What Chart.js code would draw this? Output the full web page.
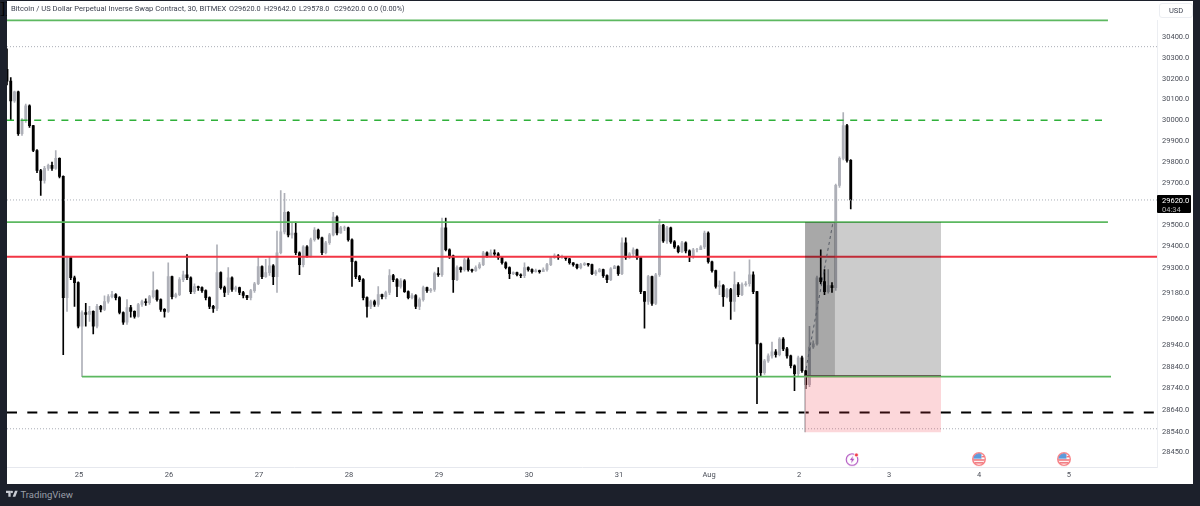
<![CDATA[<!DOCTYPE html>
<html><head><meta charset="utf-8">
<script src="https://cdn.jsdelivr.net/npm/chart.js@4"></script>
<style>
html,body{margin:0;padding:0;background:#1c202b;width:1200px;height:506px;overflow:hidden}
#panel{position:absolute;left:7px;top:1px;width:1186px;height:483px;background:#fff}
#c{position:absolute;left:0;top:0}
.t{position:absolute;font-family:Roboto,sans-serif;white-space:nowrap}
.h{font-size:7.6px;color:#3d4250;top:4px;line-height:10px}
.o{font-size:7.3px}
</style></head><body>
<div id="panel"><canvas id="c" width="1186" height="483"></canvas></div>
<div class="t h" style="left:11px">Bitcoin / US Dollar Perpetual Inverse Swap Contract, 30, BITMEX</div>
<div class="t h o" style="left:229px">O29620.0</div>
<div class="t h o" style="left:264px">H29642.0</div>
<div class="t h o" style="left:299px">L29578.0</div>
<div class="t h o" style="left:334px">C29620.0</div>
<div class="t h o" style="left:368px">0.0 (0.00%)</div>
<div style="position:absolute;left:1157px;top:1px;width:36px;height:19px;background:#fff"></div>
<div class="t" style="left:1159px;top:3px;width:32px;height:13px;border:1px solid #eceef2;border-radius:3px;background:#fff;color:#3d4250;font-size:7.5px;line-height:13px;text-align:center">USD</div>
<div style="position:absolute;left:1157px;top:195px;width:34px;height:18px;background:#000;border-radius:1px"></div>
<div class="t" style="left:1162px;top:196px;font-size:7.5px;line-height:9px;color:#fff">29620.0</div>
<div class="t" style="left:1162px;top:204.5px;font-size:7.5px;line-height:9px;color:#b8b8b8">04:34</div>
<svg style="position:absolute;left:6px;top:490px" width="12" height="8" viewBox="0 0 36 20"><path fill="#c9ccd3" d="M14 18H7V7H0V0h14zM28 18h-8L27 0h8zM21 4a3.5 3.5 0 1 1-7 0 3.5 3.5 0 0 1 7 0z"/></svg>
<div class="t" style="left:20.5px;top:489px;font-size:9.5px;line-height:12px;color:#9a9ea8">TradingView</div>
<script>
// Day axis
const dayTicks = [25,26,27,28,29,30,31,32,33,34,35,36];
const dayLabels = ['25','26','27','28','29','30','31','Aug','2','3','4','5'];
const priceTicks = [30400,30300,30200,30100,30000,29900,29800,29700,29500,29400,29300,29180,29060,28940,28840,28740,28640,28540,28450];

// Hourly candles read from the picture
const firstOpen = 30245;
const closes = [
30188,30093,30136,29936,29998,30069,29974,29855,29760,29713,
29770,29784,29770,29818,29732,29161,29348,29254,29231,29028,
29092,29083,29097,29028,29120,29106,29143,29166,29175,29161,
29092,29047,29115,29097,29074,29129,29143,29138,29166,29194,
29152,29106,29097,29259,29166,29175,29245,29268,29254,29189,
29213,29208,29194,29161,29120,29111,29278,29208,29185,29254,
29199,29208,29185,29171,29161,29194,29226,29306,29259,29278,
29310,29259,29371,29469,29562,29455,29464,29371,29315,29399,
29357,29432,29478,29441,29371,29418,29455,29539,29464,29488,
29488,29432,29329,29259,29245,29161,29120,29143,29129,29175,
29166,29185,29264,29245,29213,29240,29189,29161,29171,29120,
29152,29208,29194,29199,29273,29268,29488,29385,29357,29245,
29301,29292,29338,29292,29287,29301,29315,29371,29357,29371,
29366,29348,29324,29301,29273,29278,29268,29264,29301,29292,
29282,29287,29282,29292,29315,29348,29357,29348,29352,29343,
29324,29315,29301,29315,29320,29315,29273,29282,29292,29264,
29245,29296,29306,29273,29418,29348,29366,29385,29348,29189,
29143,29259,29134,29268,29501,29427,29488,29422,29399,29376,
29418,29380,29357,29385,29385,29399,29464,29329,29287,29213,
29217,29166,29199,29143,29222,29175,29222,29226,29268,29189,
28946,28813,28868,28891,28909,28896,28969,28923,28891,28845,
28809,28882,28822,28758,28932,28946,29254,29236,29189,29217,
29208,29689,29818,29974,29808,29620];
const highs = [
30345,30205,30140,30140,30008,30078,30074,29975,29860,29765,
29780,29790,29800,29855,29820,29735,29355,29352,29262,29235,
29100,29135,29120,29100,29130,29125,29170,29175,29190,29180,
29166,29095,29152,29125,29100,29135,29150,29155,29172,29282,
29197,29155,29110,29324,29262,29182,29255,29285,29362,29258,
29225,29215,29212,29197,29165,29125,29408,29282,29215,29301,
29258,29215,29210,29190,29172,29200,29232,29348,29310,29340,
29352,29315,29473,29665,29651,29565,29510,29515,29375,29405,
29405,29440,29490,29482,29445,29425,29462,29562,29545,29495,
29497,29492,29437,29332,29265,29250,29165,29150,29150,29213,
29178,29192,29292,29270,29250,29250,29245,29193,29180,29175,
29160,29215,29210,29205,29280,29301,29534,29534,29390,29360,
29310,29305,29345,29352,29295,29310,29325,29378,29375,29385,
29385,29372,29352,29328,29305,29282,29280,29272,29324,29305,
29296,29295,29290,29300,29322,29352,29366,29362,29360,29354,
29345,29325,29318,29322,29325,29322,29318,29290,29298,29294,
29268,29302,29312,29310,29441,29441,29372,29394,29388,29350,
29190,29265,29262,29275,29529,29505,29495,29492,29428,29405,
29425,29422,29385,29392,29392,29405,29473,29469,29332,29290,
29240,29222,29205,29205,29282,29231,29230,29236,29338,29282,
29190,28950,28875,28900,28955,28920,28975,28975,28930,28895,
28850,28890,28890,28825,29028,28960,29262,29385,29292,29292,
29231,29695,29825,30037,29980,29812];
const lows = [
30170,29998,30085,29927,29927,29990,29965,29850,29750,29642,
29700,29760,29760,29765,29725,28896,29097,29245,29120,29020,
28795,29028,29050,28992,29020,29095,29100,29135,29160,29150,
29085,29037,29037,29070,29065,29070,29120,29125,29130,29158,
29145,29097,29070,29092,29155,29160,29170,29235,29245,29180,
29180,29195,29185,29150,29110,29092,29100,29200,29165,29175,
29190,29190,29175,29160,29152,29150,29185,29222,29250,29255,
29265,29222,29185,29365,29460,29445,29440,29362,29268,29305,
29350,29350,29425,29435,29362,29365,29410,29450,29455,29462,
29475,29425,29213,29250,29235,29150,29070,29110,29120,29120,
29155,29155,29175,29235,29166,29205,29185,29155,29155,29110,
29105,29145,29185,29185,29190,29260,29260,29380,29345,29185,
29240,29280,29285,29285,29280,29283,29295,29310,29350,29352,
29358,29340,29318,29295,29250,29268,29262,29254,29254,29285,
29275,29280,29275,29285,29285,29310,29345,29340,29345,29335,
29318,29308,29295,29295,29310,29308,29268,29265,29280,29255,
29231,29240,29298,29265,29268,29340,29345,29355,29340,29180,
29019,29130,29125,29128,29260,29420,29415,29415,29392,29370,
29372,29370,29329,29345,29375,29385,29390,29322,29280,29205,
29175,29120,29160,29060,29097,29165,29170,29215,29215,29180,
28671,28799,28805,28860,28880,28885,28890,28915,28880,28835,
28731,28795,28815,28740,28749,28925,28940,29225,29175,29182,
29185,29195,29680,29810,29800,29578];
const firstBarDay = 24.2, barStepDays = 1/24;

// Drawn levels: [price, start day, end day]
const greenTop = [30483, 24.2, 36.433];
const greenDash = [30000, 24.2, 36.433];
const greenMid = [29515, 24.2, 36.433];
const redLevel = [29352, 24.2, 36.978];
const greenLow = [28795, 25.033, 36.467];
const blackDash = [28630, 24.2, 36.978];
const dottedLevels = [30355, 29620, 28556];

// Long-position drawing
const boxLeft = 33.067, boxMid = 33.4, boxRight = 34.578;
const boxTop = 29515, boxEntry = 28800, boxStopTop = 28795, boxStopBottom = 28540;
const pathDays = [33.078, 33.378], pathPrices = [28831, 29515];

// Event markers
const eventY = 28418;
const boltDays = [33.59], flagDays = [35.0, 35.944];

function icon(draw){const c=document.createElement('canvas');c.width=16;c.height=16;draw(c.getContext('2d'));return c;}
const boltIcon = icon(g=>{
  g.strokeStyle='#ab47bc';g.lineWidth=1.1;g.beginPath();g.arc(8,8.5,5.8,0,Math.PI*2);g.stroke();
  g.fillStyle='#ab47bc';g.beginPath();g.moveTo(9,4.8);g.lineTo(5.8,9);g.lineTo(7.8,9);g.lineTo(7,12.2);g.lineTo(10.3,7.8);g.lineTo(8.2,7.8);g.closePath();g.fill();
  g.fillStyle='#fff';g.beginPath();g.arc(12.3,3.8,2.4,0,7);g.fill();
  g.fillStyle='#f23645';g.beginPath();g.arc(12.3,3.8,1.6,0,7);g.fill();
});
const flagIcon = icon(g=>{
  g.save();g.beginPath();g.arc(8,8,6,0,7);g.clip();
  g.fillStyle='#fff';g.fillRect(0,0,16,16);
  g.fillStyle='#ef6c73';g.fillRect(2,8.2,12,1.5);g.fillRect(2,11,12,1.5);
  g.fillStyle='#5b9bdc';g.fillRect(2,2,8.5,5.6);g.fillStyle='#ef6c73';g.fillRect(10.5,5,4,1.3);
  g.restore();
  g.strokeStyle='#f77c80';g.lineWidth=1.3;g.beginPath();g.arc(8,8,6.3,0,7);g.stroke();
});

const opens = closes.map((c,i)=> i===0 ? firstOpen : closes[i-1]);
const barX = closes.map((c,i)=> firstBarDay + i*barStepDays);
const candleColor = closes.map((c,i)=> c>=opens[i] ? '#aeb0b8' : '#000000');

function level(spec,color,width,dash,order){
  return {type:'line',data:[{x:spec[1],y:spec[0]},{x:spec[2],y:spec[0]}],borderColor:color,borderWidth:width,borderDash:dash||[],pointRadius:0,order:order||3};
}
function box(x0,x1,top,bottom,color){
  return {type:'line',data:[{x:x0,y:top},{x:x1,y:top}],borderWidth:0,borderColor:'transparent',backgroundColor:color,fill:{value:bottom},pointRadius:0,order:1};
}
function marks(days,img){
  return {type:'line',showLine:false,data:days.map(d=>({x:d,y:eventY})),pointStyle:img,pointRadius:8,order:0};
}

new Chart(document.getElementById('c'),{
  type:'bar',
  data:{datasets:[
    {type:'bar',label:'wick',data:barX.map((x,i)=>({x,y:[lows[i],highs[i]]})),backgroundColor:candleColor,barThickness:1,grouped:false,order:6},
    {type:'bar',label:'body',data:barX.map((x,i)=>({x,y:[opens[i],closes[i]]})),backgroundColor:candleColor,barThickness:2.2,grouped:false,order:5},
    level(greenTop,'#5cb860',1.7),
    level(greenDash,'#2fb03a',1.6,[7,6.6]),
    level(greenMid,'#5cb860',1.7),
    level(redLevel,'#f23645',2),
    level(greenLow,'#5cb860',1.7),
    level(blackDash,'#000000',2,[10,10.3]),
    ...dottedLevels.map(p=>level([p,24.2,36.978],'#aaaeb6',1,[1,2])),
    box(boxLeft,boxMid,boxTop,boxEntry,'rgba(0,0,0,0.34)'),
    box(boxMid,boxRight,boxTop,boxEntry,'rgba(0,0,0,0.2)'),
    box(boxLeft,boxRight,boxStopTop,boxStopBottom,'rgba(242,54,69,0.2)'),
    {type:'line',data:[{x:boxLeft,y:boxStopTop},{x:boxLeft,y:boxStopBottom}],borderColor:'#b0b0b4',borderWidth:1.5,pointRadius:0,order:1},
    {type:'line',data:[{x:boxLeft,y:boxEntry},{x:boxRight,y:boxEntry}],borderColor:'#6a6558',borderWidth:1,pointRadius:0,order:1},
    {type:'line',data:pathDays.map((d,i)=>({x:d,y:pathPrices[i]})),borderColor:'#555a64',borderWidth:1,borderDash:[3,3],pointRadius:0,order:0},
    marks(boltDays,boltIcon),
    marks(flagDays,flagIcon)
  ]},
  options:{
    responsive:false,animation:false,events:[],devicePixelRatio:1,
    layout:{padding:0,autoPadding:false},
    plugins:{legend:{display:false},tooltip:{enabled:false}},
    scales:{
      x:{type:'linear',offset:false,min:24.2,max:36.978,
        grid:{display:false,drawTicks:false,offset:false},border:{display:true,color:'#e6e8ee'},
        afterBuildTicks:a=>{a.ticks=dayTicks.map(value=>({value}));},
        afterFit:a=>{a.height=17;},
        ticks:{autoSkip:false,maxRotation:0,padding:4,color:'#4a4e58',font:{family:'Roboto',size:7.5},
          callback:v=>dayLabels[dayTicks.indexOf(v)]}},
      y:{type:'logarithmic',position:'right',min:28382,max:30531,
        grid:{display:false,drawTicks:false},border:{display:true,color:'#eceef2'},
        afterBuildTicks:a=>{a.ticks=priceTicks.map(value=>({value}));},
        afterFit:a=>{a.width=36;},
        ticks:{autoSkip:false,padding:5,color:'#4a4e58',font:{family:'Roboto',size:7.5},
          callback:v=>Number(v).toFixed(1)}}
    }
  }
});
</script>
</body></html>]]>
